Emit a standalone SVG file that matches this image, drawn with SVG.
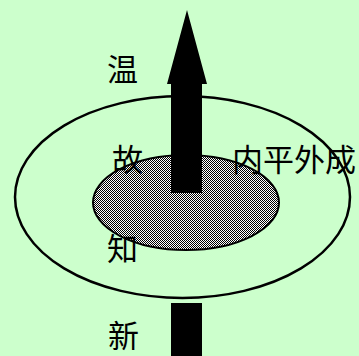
<svg xmlns="http://www.w3.org/2000/svg" width="359" height="356" viewBox="0 0 359 356">
<style>
.t{font-family:"Noto Sans CJK SC","Noto Sans CJK JP",sans-serif;font-size:31px;fill:#000}
.ring{fill:none;stroke:#000;stroke-width:2.5}
</style>
<defs>
<pattern id="dither" width="2" height="2" patternUnits="userSpaceOnUse">
<rect width="2" height="2" fill="#ffffff"/>
<rect width="1" height="1" fill="#000"/>
<rect x="1" y="1" width="1" height="1" fill="#000"/>
</pattern>
</defs>
<rect width="359" height="356" fill="#CCFFCC"/>
<g id="outer">
<ellipse class="ring" cx="182.5" cy="197" rx="167.5" ry="101"/>
</g>
<g id="inner">
<ellipse cx="186" cy="202.5" rx="93" ry="47.5" fill="url(#dither)" stroke="#000" stroke-width="2"/>
</g>
<g id="connectors">
<polygon points="187,10 207,84 202,84 202,193 171,193 171,84 167,84" fill="#000"/>
<rect x="171" y="303" width="31" height="53" fill="#000"/>
</g>
<g id="labels">
<text class="t" x="107" y="81">温</text>
<text class="t" x="112" y="171">故</text>
<text class="t" x="107" y="260">知</text>
<text class="t" x="108" y="347">新</text>
<text class="t" x="232" y="171" textLength="124" lengthAdjust="spacing">内平外成</text>
</g>
</svg>
